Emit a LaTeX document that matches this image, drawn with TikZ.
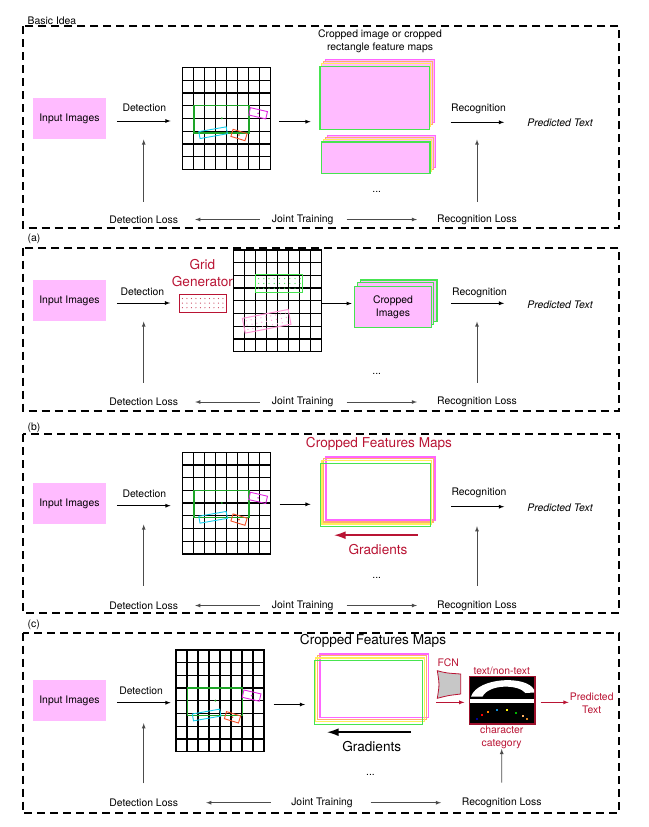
\documentclass[tikz,border=0pt]{standalone}
\usepackage{fontspec}
\setmainfont{TeX Gyre Heros}
\usepackage{tikz}
\usetikzlibrary{calc}
\usetikzlibrary{positioning}
\usetikzlibrary{arrows}
\usetikzlibrary{arrows.meta}

\definecolor{inpink}{RGB}{255,187,255}
\definecolor{mapgreen}{RGB}{70,228,80}
\definecolor{detgreen}{RGB}{30,165,40}
\definecolor{detmag}{RGB}{225,40,225}
\definecolor{detcyan}{RGB}{20,205,235}
\definecolor{detred}{RGB}{245,80,40}
\definecolor{layermag}{RGB}{255,100,255}
\definecolor{layerorg}{RGB}{255,175,110}
\definecolor{layeryel}{RGB}{255,238,90}
\definecolor{crimson}{RGB}{185,20,52}
\definecolor{gridpink}{RGB}{255,150,215}

\tikzset{
  txt/.style={font=\fontsize{10.4}{13}\selectfont, inner sep=0pt, align=center},
  bigtxt/.style={font=\fontsize{13.6}{16.7}\selectfont, inner sep=0pt, align=center},
  predtxt/.style={font=\fontsize{10.4}{13}\selectfont\itshape, inner sep=0pt},
  panel/.style={line width=2pt, dash pattern=on 8pt off 5pt},
  inbox/.style={txt, fill=inpink, minimum width=73.3pt, minimum height=41pt},
  gridbox/.style={inner sep=0pt, minimum width=88pt, minimum height=101.6pt, anchor=north west},
  frontmap/.style={draw=mapgreen, line width=1.2pt, inner sep=0pt, anchor=north west},
  flow/.style={-latex, line width=0.8pt},
  lossflow/.style={-latex, line width=0.8pt, black!70},
  gradflow/.style={-{Latex[length=12pt,width=8pt]}, line width=2pt},
  gridlines/.pic={
    \foreach \i in {0,...,8} {
      \draw[line width=1.3pt, line cap=rect] (\i*11,0) -- (\i*11,101.6);
      \draw[line width=1.3pt, line cap=rect] (0,\i*12.7) -- (88,\i*12.7);
    }
  },
  detboxes/.pic={
    \draw[detgreen, line width=1.4pt] (11.3,38) rectangle (66.6,65.3);
    \fill[detgreen] (39.3,50.6) circle (1.1);
    \draw[detmag, line width=0.9pt, rotate around={-13:(75.6,45.6)}] (66.85,41.85) rectangle (84.35,49.35);
    \fill[detmag] (75.6,45.6) circle (0.9);
    \draw[detcyan, line width=0.9pt, rotate around={10:(30.6,65)}] (16.7,61.5) rectangle (44.5,68.5);
    \draw[detred, line width=0.9pt, rotate around={-17:(56.5,67.3)}] (49.15,63.6) rectangle (63.85,71);
    \fill[detred] (56.5,67.3) circle (0.9);
  },
}

\begin{document}
\begin{tikzpicture}[x=1pt, y=-1pt]
\useasboundingbox (0,0) rectangle (648,827);

% Basic Idea
\node[txt, anchor=west] (lb1) at (27.5,20.5) {Basic Idea};
\draw[panel] (22.7,26) rectangle (619,228);
\node[inbox] (in1) at (69.4,118.8) {Input Images};
\node[gridbox] (g1) at (182.5,67.7) {};
\pic at (g1.north west) {gridlines};
\pic at (g1.north west) {detboxes};
\foreach \k/\col in {3/layermag,2/layerorg,1/layeryel}
  \draw[\col, fill=inpink, line width=1pt] (319.3+\k*2,66-\k*2.2) rectangle ++(109.4,62.7);
\node[frontmap, fill=inpink, minimum width=109.4pt, minimum height=62.7pt] (f1) at (319.3,66) {};
\foreach \k/\col in {3/layermag,2/layerorg,1/layeryel}
  \draw[\col, fill=inpink, line width=1pt] (321+\k*2,141.3-\k*2) rectangle ++(108.3,31.7);
\node[frontmap, fill=inpink, minimum width=108.3pt, minimum height=31.7pt] (h1) at (321,141.3) {};
\node[txt] (cap1) at (380,41.2) {Cropped image or cropped\\rectangle feature maps};
\node[txt] (dots1) at (376.7,192.3) {...};
\node[predtxt] (pt1) at (560,122.3) {Predicted Text};
\node[txt] (dl1) at (143.7,219.5) {Detection Loss};
\node[txt] (jt1) at (302.7,219.5) {Joint Training};
\node[txt] (rl1) at (477,219.5) {Recognition Loss};
\draw[flow, shorten <=10.5pt, shorten >=11.9pt] ([yshift=-2.2pt]in1.east) -- ([yshift=-2.2pt]in1.east -| g1.west)
  node[txt, midway, above=9pt] {Detection};
\draw[flow, shorten <=8.5pt, shorten >=8.7pt] ([yshift=-3pt]g1.east) -- ([yshift=-3pt]g1.east -| f1.west);
\draw[flow, shorten <=20.6pt, shorten >=23pt] (pt1.west -| f1.east) -- (pt1.west)
  node[txt, midway, above=8.5pt] {Recognition};
\draw[lossflow, shorten <=13.7pt] (dl1.north) -- (dl1.north |- in1.south);
\draw[lossflow, shorten <=12.5pt] (rl1.north) -- (rl1.north |- in1.south);
\draw[lossflow, shorten <=12pt, shorten >=17pt] (jt1.west) -- (dl1.east);
\draw[lossflow, shorten <=13pt, shorten >=20pt] (jt1.east) -- (rl1.west);

% (a)
\node[txt, anchor=west] (lba) at (27.5,239) {(a)};
\draw[panel] (22.7,247.7) rectangle (619,410.7);
\node[inbox] (ina) at (69.4,300.8) {Input Images};
\node[draw=crimson, line width=1pt, fill=white, inner sep=0pt, minimum width=47.3pt, minimum height=17.7pt] (gga) at (202.7,303.2) {};
\foreach \r in {0,1,2}
  \foreach \q in {0,...,9}
    \fill[crimson!85] (182.4+\q*4.5,298.5+\r*4.6) circle (0.6);
\node[bigtxt, text=crimson] (ggt) at (202.4,273.3) {Grid\\Generator};
\node[gridbox] (ga) at (233.5,250) {};
\pic at (ga.north west) {gridlines};
\draw[mapgreen, line width=1pt] (255.7,274.3) rectangle (302.7,292.3);
\foreach \r in {0,1,2}
  \foreach \q in {0,...,8}
    \fill[mapgreen] (258.6+\q*5.2,278.6+\r*4.8) circle (0.65);
\begin{scope}[shift={(266.7,321.3)}, rotate=11]
  \draw[gridpink, line width=1pt] (-23.3,-7.5) rectangle (23.3,7.5);
  \foreach \r in {-1,0,1}
    \foreach \q in {-4,...,4}
      \fill[gridpink] (\q*5,\r*4.5) circle (0.65);
\end{scope}
\foreach \k in {2,1}
  \draw[mapgreen, fill=inpink, line width=1.2pt] (354+\k*3.1,285.7-\k*2.9) rectangle ++(76.7,41.3);
\node[frontmap, fill=inpink, txt, minimum width=76.7pt, minimum height=41.3pt] (fa) at (354,285.7) {Cropped\\Images};
\node[txt] (dotsa) at (376.7,374) {...};
\node[predtxt] (pta) at (560,305) {Predicted Text};
\node[txt] (dla) at (143.7,402) {Detection Loss};
\node[txt] (jta) at (302.7,402) {Joint Training};
\node[txt] (rla) at (477,402) {Recognition Loss};
\draw[flow, shorten <=10.5pt, shorten >=8.4pt] ([yshift=-2.2pt]ina.east) -- ([yshift=-2.2pt]ina.east -| gga.west)
  node[txt, midway, above=7pt] {Detection};
\draw[flow, shorten >=2.3pt] ([yshift=-2.5pt]ga.east) -- ([yshift=-2.5pt]ga.east -| fa.west);
\draw[flow, shorten <=19.3pt, shorten >=23pt] ([yshift=1.7pt]pta.west -| fa.east) -- ([yshift=1.7pt]pta.west)
  node[txt, midway, above=5pt] {Recognition};
\draw[lossflow, shorten <=15pt] (dla.north) -- (dla.north |- ina.south);
\draw[lossflow, shorten <=14pt] (rla.north) -- (rla.north |- ina.south);
\draw[lossflow, shorten <=12pt, shorten >=17pt] (jta.west) -- (dla.east);
\draw[lossflow, shorten <=13pt, shorten >=20pt] (jta.east) -- (rla.west);

% (b)
\node[txt, anchor=west] (lbb) at (27.5,427.7) {(b)};
\draw[panel] (22.7,434) rectangle (619,612.7);
\node[inbox] (inb) at (69.4,503.8) {Input Images};
\node[gridbox] (gb) at (182.5,452.3) {};
\pic at (gb.north west) {gridlines};
\pic at (gb.north west) {detboxes};
\node[bigtxt, text=crimson] (cfb) at (379,444.3) {Cropped Features Maps};
\foreach \k/\col/\w in {3/layermag/1.6,2/layerorg/1.2,1/layeryel/1.2}
  \draw[\col, line width=\w pt] (320+\k*1.9,462.7-\k*2) rectangle ++(109.5,63.3);
\node[frontmap, minimum width=109.5pt, minimum height=63.3pt] (fb) at (320,462.7) {};
\draw[gradflow, crimson] ([xshift=-13.2pt, yshift=-8pt]fb.south east) -- ([xshift=13.7pt, yshift=-8pt]fb.south west);
\node[bigtxt, text=crimson] (grb) at (378,550) {Gradients};
\node[txt] (dotsb) at (376.7,577.7) {...};
\node[predtxt] (ptb) at (560,507.3) {Predicted Text};
\node[txt] (dlb) at (143.7,605.5) {Detection Loss};
\node[txt] (jtb) at (302.7,605.5) {Joint Training};
\node[txt] (rlb) at (477,605.5) {Recognition Loss};
\draw[flow, shorten <=10.5pt, shorten >=11.9pt] ([yshift=-1.9pt]inb.east) -- ([yshift=-1.9pt]inb.east -| gb.west)
  node[txt, midway, above=8pt] {Detection};
\draw[flow, shorten <=8.7pt, shorten >=9.4pt] ([yshift=-1pt]gb.east) -- ([yshift=-1pt]gb.east -| fb.west);
\draw[flow, shorten <=20.5pt, shorten >=23pt] ([yshift=0.6pt]ptb.west -| fb.east) -- ([yshift=0.6pt]ptb.west)
  node[txt, midway, above=9pt] {Recognition};
\draw[lossflow, shorten <=15.7pt] (dlb.north) -- (dlb.north |- inb.south);
\draw[lossflow, shorten <=14.5pt] (rlb.north) -- ([yshift=-1.7pt]rlb.north |- inb.south);
\draw[lossflow, shorten <=12pt, shorten >=17pt] (jtb.west) -- (dlb.east);
\draw[lossflow, shorten <=13pt, shorten >=20pt] (jtb.east) -- (rlb.west);

% (c)
\node[txt, anchor=west] (lbc) at (27.5,625.3) {(c)};
\draw[panel] (22.7,632.7) rectangle (619,813);
\node[inbox] (inc) at (69.4,700.8) {Input Images};
\node[gridbox] (gc) at (176,650) {};
\pic at (gc.north west) {gridlines};
\pic at (gc.north west) {detboxes};
\node[bigtxt] (cfc) at (373,641.3) {Cropped Features Maps};
\foreach \k/\col/\w in {3/layermag/1.6,2/layerorg/1.2,1/layeryel/1.2}
  \draw[\col, line width=\w pt] (313.5+\k*2.1,660-\k*2.1) rectangle ++(108.5,63.7);
\node[frontmap, minimum width=108.5pt, minimum height=63.7pt] (fc) at (313.5,660) {};
\draw[gradflow] ([xshift=-12pt, yshift=-7.3pt]fc.south east) -- ([xshift=13.2pt, yshift=-7.3pt]fc.south west);
\node[bigtxt] (grc) at (371.7,746.7) {Gradients};
\node[txt] (dotsc) at (370.5,774.7) {...};
% FCN and the text/non-text map
\node[txt, text=crimson] (fcn) at (448.3,662.7) {FCN};
\draw[crimson, fill=black!22, line width=0.8pt] (437.3,670.7) .. controls (446,673) .. (460.7,674) -- (460.7,694)
  .. controls (448,695.5) .. (437.3,698.3) .. controls (439.5,684.5) .. (437.3,670.7) -- cycle;
\node[fill=black, draw=crimson!85!black, line width=1.2pt, inner sep=0pt, minimum width=65.7pt, minimum height=47.3pt] (tn) at (502.15,700.35) {};
\fill[white] (471,696.5) .. controls (478,677) and (527,675) .. (534.2,690) -- (534.2,692.5) -- (525.5,693)
  .. controls (518,684) and (489,684) .. (482.5,696.5) -- cycle;
\fill[white] (470,699.3) rectangle (534.3,703.3);
\foreach \px/\py/\col in {477.3/719/{blue!60!black}, 482.3/715/red, 488.3/712/orange, 497.3/710.3/{cyan!70!blue},
    506.7/710.3/yellow, 516/712.7/{green!70!black}, 522.7/716/{orange!60}, 526.7/719.3/{brown!50!orange}}
  \fill[\col] (\px-1,\py-1) rectangle (\px+1,\py+1);
\node[txt, text=crimson] (tnt) at (501.7,671) {text/non-text};
\node[txt, text=crimson] (cat) at (501.7,737.3) {character\\category};
\node[txt, text=crimson] (ptc) at (591.7,703) {Predicted\\Text};
\node[txt] (dlc) at (143.7,802.7) {Detection Loss};
\node[txt] (jtc) at (322,802.7) {Joint Training};
\node[txt] (rlc) at (501.8,802.7) {Recognition Loss};
\draw[flow, shorten <=10.5pt, shorten >=5.4pt] ([yshift=-1.9pt]inc.east) -- ([yshift=-1.9pt]inc.east -| gc.west)
  node[txt, midway, above=8pt] {Detection};
\draw[flow, shorten <=9.1pt, shorten >=8.5pt] ([yshift=-3.5pt]gc.east) -- ([yshift=-3.5pt]gc.east -| fc.west);
\draw[flow, crimson, shorten <=13pt, shorten >=4.3pt] ([yshift=-2pt]fc.east |- tn.west) -- ([yshift=-2pt]tn.west);
\draw[flow, crimson, shorten <=5pt, shorten >=1pt] ([yshift=-2pt]tn.east) -- ([yshift=-2pt]tn.east -| ptc.west);
\draw[lossflow, shorten <=15.2pt] (dlc.north) -- ([yshift=-1.7pt]dlc.north |- inc.south);
\draw[lossflow, shorten <=15pt] (rlc.north) -- (cat.south);
\draw[lossflow, shorten <=20.3pt, shorten >=28pt] (jtc.west) -- (dlc.east);
\draw[lossflow, shorten <=17.7pt, shorten >=20.7pt] (jtc.east) -- (rlc.west);
\end{tikzpicture}
\end{document}
